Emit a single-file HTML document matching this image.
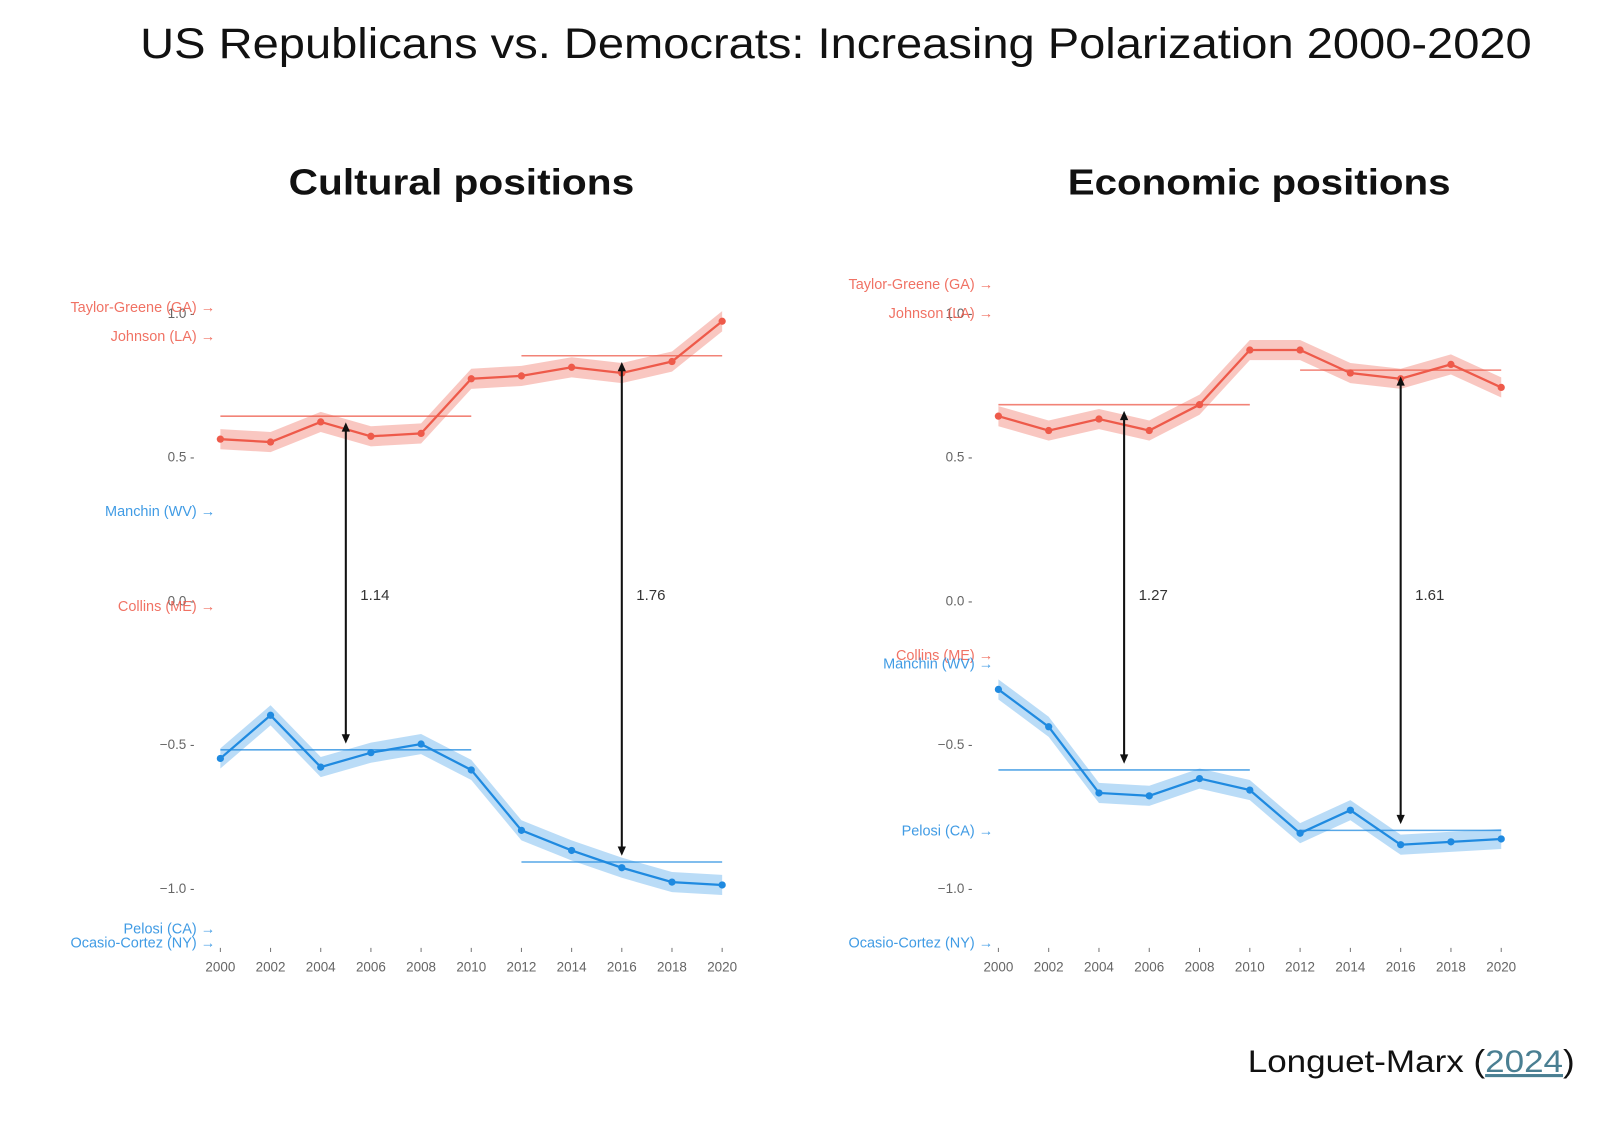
<!DOCTYPE html>
<html><head><meta charset="utf-8"><style>
html,body{margin:0;padding:0;background:#fff;}
svg{display:block;}
text{font-family:"Liberation Sans",sans-serif;}
</style></head><body>
<svg id="fig" width="1614" height="1126" viewBox="0 0 1560 1088" xmlns="http://www.w3.org/2000/svg">
<text x="808" y="56" text-anchor="middle" font-size="41" fill="#111" textLength="1345" lengthAdjust="spacingAndGlyphs">US Republicans vs. Democrats: Increasing Polarization 2000-2020</text>
<text x="446" y="188" text-anchor="middle" font-size="35" font-weight="bold" fill="#111" textLength="334" lengthAdjust="spacingAndGlyphs">Cultural positions</text>
<text x="1217" y="188" text-anchor="middle" font-size="35" font-weight="bold" fill="#111" textLength="370" lengthAdjust="spacingAndGlyphs">Economic positions</text>
<text x="1522" y="1036" text-anchor="end" font-size="30" fill="#111" textLength="316" lengthAdjust="spacingAndGlyphs">Longuet-Marx (<tspan fill="#4a7f92" text-decoration="underline">2024</tspan>)</text>
<g id="left"></g>
<g id="right"></g>
</svg>
<script>
const years = [2000,2002,2004,2006,2008,2010,2012,2014,2016,2018,2020];
const yTicks = [1.0,0.5,0.0,-0.5,-1.0];
const yTickLabels = ["1.0","0.5","0.0","\u22120.5","\u22121.0"];
const culturalRep = [0.56,0.55,0.62,0.57,0.58,0.77,0.78,0.81,0.79,0.83,0.97];
const culturalDem = [-0.55,-0.40,-0.58,-0.53,-0.50,-0.59,-0.80,-0.87,-0.93,-0.98,-0.99];
const culturalRepMeans = [0.64,0.85];
const culturalDemMeans = [-0.52,-0.91];
const culturalGaps = ["1.14","1.76"];
const culturalMembers = ["Taylor-Greene (GA)","Johnson (LA)","Manchin (WV)","Collins (ME)","Pelosi (CA)","Ocasio-Cortez (NY)"];
const culturalMemberVals = [1.02,0.92,0.31,-0.02,-1.14,-1.19];
const economicRep = [0.64,0.59,0.63,0.59,0.68,0.87,0.87,0.79,0.77,0.82,0.74];
const economicDem = [-0.31,-0.44,-0.67,-0.68,-0.62,-0.66,-0.81,-0.73,-0.85,-0.84,-0.83];
const economicRepMeans = [0.68,0.80];
const economicDemMeans = [-0.59,-0.80];
const economicGaps = ["1.27","1.61"];
const economicMembers = ["Taylor-Greene (GA)","Johnson (LA)","Collins (ME)","Manchin (WV)","Pelosi (CA)","Ocasio-Cortez (NY)"];
const economicMemberVals = [1.10,1.00,-0.19,-0.22,-0.80,-1.19];
const memberParty = {"Taylor-Greene (GA)":"r","Johnson (LA)":"r","Collins (ME)":"r","Manchin (WV)":"d","Pelosi (CA)":"d","Ocasio-Cortez (NY)":"d"};

const NS="http://www.w3.org/2000/svg";
function mk(parent,tag,attrs,txt){const e=document.createElementNS(NS,tag);for(const k in attrs)e.setAttribute(k,attrs[k]);if(txt!==undefined)e.textContent=txt;parent.appendChild(e);return e;}
const RED="#ee5a4a", BLUE="#1f8ae0";

function draw(g,x0,x1,rep,dem,repM,demM,gaps,members,mvals,key){
  const xS=yr=>x0+(yr-2000)/20*(x1-x0);
  const yS=v=>580-v*278;
  const band=0.035;
  yTicks.forEach((t,i)=>{
    const e=mk(g,'text',{x:x0-25,y:yS(t)+5,'text-anchor':'end','font-size':13,fill:'#666'},yTickLabels[i]+" -");
    
    
  });
  years.forEach(yr=>{
    const tk=mk(g,'line',{x1:xS(yr),x2:xS(yr),y1:916,y2:920,stroke:'#777','stroke-width':1});
    
    
    const e=mk(g,'text',{x:xS(yr),y:939,'text-anchor':'middle','font-size':13,fill:'#666'},String(yr));
    
    
  });
  [[rep,repM,RED,'#f8b9b1','republican'],[dem,demM,BLUE,'#a9d3f5','democrat']].forEach(([vals,means,col,fill,nm])=>{
    const up=vals.map((v,i)=>xS(years[i])+','+yS(v+band)).join(' ');
    const dn=vals.slice().reverse().map((v,i)=>xS(years[years.length-1-i])+','+yS(v-band)).join(' ');
    const b=mk(g,'polygon',{points:up+' '+dn,fill:fill,opacity:0.8});
    
    
    const m1=mk(g,'line',{x1:xS(2000),x2:xS(2010),y1:yS(means[0]),y2:yS(means[0]),stroke:col,'stroke-width':1.5,opacity:0.75});
    
    
    const m2=mk(g,'line',{x1:xS(2012),x2:xS(2020),y1:yS(means[1]),y2:yS(means[1]),stroke:col,'stroke-width':1.5,opacity:0.75});
    
    
    const l=mk(g,'polyline',{points:vals.map((v,i)=>xS(years[i])+','+yS(v)).join(' '),fill:'none',stroke:col,'stroke-width':2.2});
    
    
    vals.forEach((v,i)=>{
      const c=mk(g,'circle',{cx:xS(years[i]),cy:yS(v),r:3.5,fill:col});
      
      
    });
  });
  [[2005,0],[2016,1]].forEach(([yr,k])=>{
    const x=xS(yr), ya=yS(repM[k])+6, yb=yS(demM[k])-6;
    const a=mk(g,'line',{x1:x,x2:x,y1:ya+8,y2:yb-8,stroke:'#111','stroke-width':2});
    
    
    mk(g,'polygon',{points:`${x-4},${ya+9} ${x+4},${ya+9} ${x},${ya}`,fill:'#111'});
    mk(g,'polygon',{points:`${x-4},${yb-9} ${x+4},${yb-9} ${x},${yb}`,fill:'#111'});
    const t=mk(g,'text',{x:x+14,y:580,'font-size':14.5,fill:'#333'},gaps[k]);
    
    
  });
  members.forEach((m,i)=>{
    const col=memberParty[m]==='r'?RED:BLUE;
    const t=mk(g,'text',{x:x0-5,y:yS(mvals[i])+5,'text-anchor':'end','font-size':14,fill:col,opacity:0.85},m+" \u2192");
    
    
  });
}
draw(document.getElementById('left'),213,698,culturalRep,culturalDem,culturalRepMeans,culturalDemMeans,culturalGaps,culturalMembers,culturalMemberVals,'c');
draw(document.getElementById('right'),965,1451,economicRep,economicDem,economicRepMeans,economicDemMeans,economicGaps,economicMembers,economicMemberVals,'e');
</script>
</body></html>
